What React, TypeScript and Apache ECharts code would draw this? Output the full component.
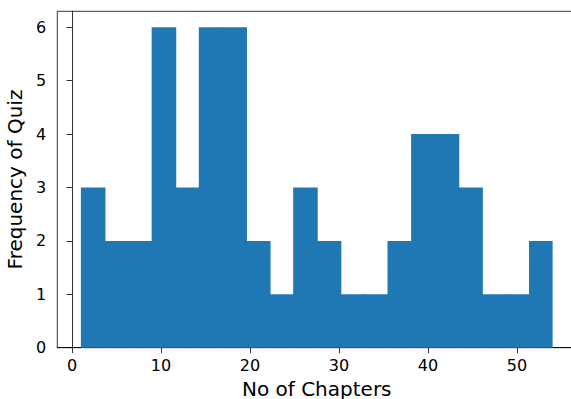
import React, { useEffect, useRef } from "react";
import * as echarts from "echarts";

const binMin = 1;
const binMax = 54;
const counts = [3, 2, 2, 6, 3, 6, 6, 2, 1, 3, 2, 1, 1, 2, 4, 4, 3, 1, 1, 2];
const xTicks = [0, 10, 20, 30, 40, 50];
const yTicks = [0, 1, 2, 3, 4, 5, 6];
const xLabel = "No of Chapters";
const yLabel = "Frequency of Quiz";

export default function App() {
  const ref = useRef<HTMLDivElement>(null);
  useEffect(() => {
    document.body.style.margin = "0";
    const chart = echarts.init(ref.current!, null, { renderer: "svg" });
    const w = (binMax - binMin) / counts.length;
    const data = counts.map((c, i) => [binMin + i * w, binMin + (i + 1) * w, c, i]);
    const font = "DejaVu Sans";
    chart.setOption({
      animation: false,
      grid: {
        left: 57.3,
        top: 11.3,
        bottom: 51.3,
        right: 0.8,
        outerBoundsMode: "none",
        containLabel: false,
        show: true,
        borderColor: "#000",
        borderWidth: 0.8,
        backgroundColor: "transparent",
      },
      xAxis: {
        type: "value",
        min: -1.65,
        max: 56.65,
        name: xLabel,
        nameLocation: "middle",
        nameGap: 30,
        nameTextStyle: { fontFamily: font, fontSize: 20, color: "#000" },
        axisLine: { show: true, lineStyle: { color: "#000", width: 0.8 } },
        axisTick: { show: true, length: 5.5, customValues: xTicks, lineStyle: { color: "#000", width: 0.8 } },
        axisLabel: { customValues: xTicks, margin: 10, fontFamily: font, fontSize: 16, color: "#000" },
        splitLine: { show: false },
      },
      yAxis: {
        type: "value",
        min: 0,
        max: 6.3,
        name: yLabel,
        nameLocation: "middle",
        nameGap: 30,
        nameTextStyle: { fontFamily: font, fontSize: 20, color: "#000" },
        axisLine: { show: true, lineStyle: { color: "#000", width: 0.8 } },
        axisTick: { show: true, length: 5.5, customValues: yTicks, lineStyle: { color: "#000", width: 0.8 } },
        axisLabel: { customValues: yTicks, margin: 11, fontFamily: font, fontSize: 16, color: "#000" },
        splitLine: { show: false },
      },
      series: [
        {
          type: "custom",
          data,
          encode: { x: [0, 1], y: 2 },
          renderItem: (params: any, api: any) => {
            const p0 = api.coord([api.value(0), api.value(2)]);
            const p1 = api.coord([api.value(1), 0]);
            const last = api.value(3) === counts.length - 1;
            return {
              type: "rect",
              shape: { x: p0[0], y: p0[1], width: p1[0] - p0[0] + (last ? 0 : 1), height: p1[1] - p0[1] },
              style: { fill: "#1f77b4" },
            };
          },
        },
      ],
    });
    return () => chart.dispose();
  }, []);
  return (
    <div style={{ width: 571, height: 399, overflow: "hidden", position: "relative" }}>
      <div ref={ref} style={{ width: 577, height: 399, position: "absolute", left: 0, top: 0 }} />
    </div>
  );
}
